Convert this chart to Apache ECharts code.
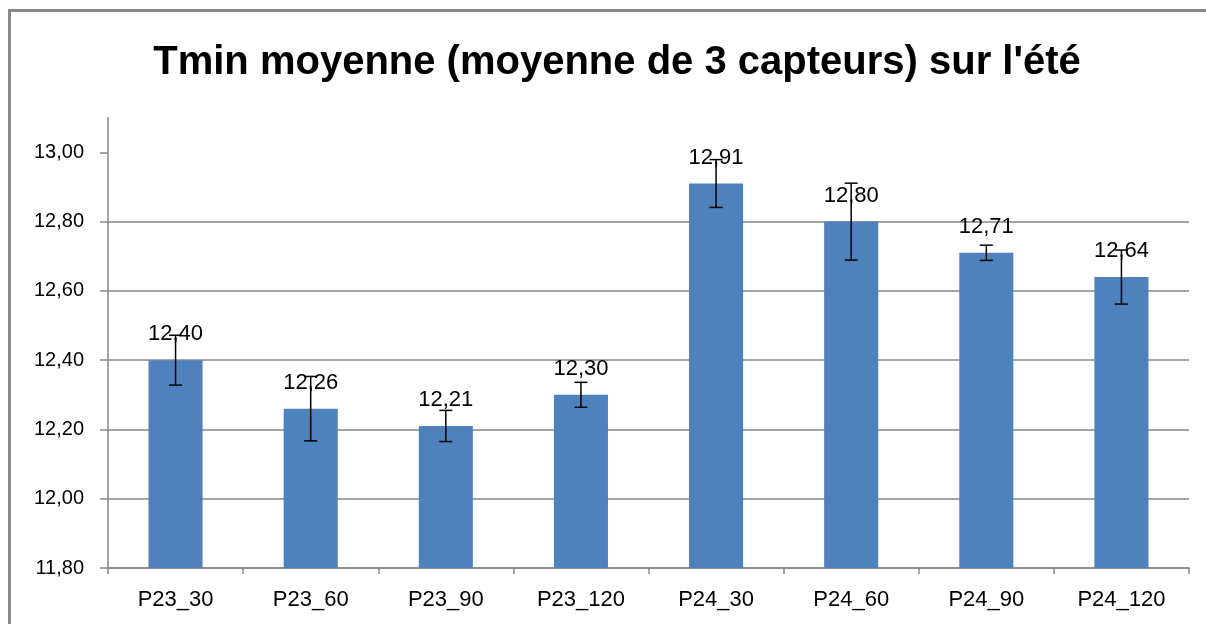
<!DOCTYPE html>
<html>
<head>
<meta charset="utf-8">
<script src="https://cdn.jsdelivr.net/npm/echarts@6/dist/echarts.min.js"></script>
<style>
html,body{margin:0;padding:0;background:#fff;overflow:hidden;}
#frame{position:absolute;left:8px;top:9px;width:1400px;height:800px;border:3px solid #878787;box-sizing:border-box;}
#chart{position:absolute;left:0;top:0;width:1206px;height:624px;}
</style>
</head>
<body>
<div id="frame"></div>
<div id="chart"></div>
<script>
const titleText = "Tmin moyenne (moyenne de 3 capteurs) sur l'été";
const categories = ['P23_30','P23_60','P23_90','P23_120','P24_30','P24_60','P24_90','P24_120'];
const means = [12.40, 12.26, 12.21, 12.30, 12.91, 12.80, 12.71, 12.64];
const errors = [0.072, 0.093, 0.045, 0.036, 0.069, 0.111, 0.022, 0.078];
const yTicks = [11.8, 12.0, 12.2, 12.4, 12.6, 12.8, 13.0];

const fmt = v => Number(v).toFixed(2).replace('.', ',');
const FONT = 'Liberation Sans';

const errData = means.map((m, i) => [i, m, errors[i]]);

const chart = echarts.init(document.getElementById('chart'), null, {renderer: 'canvas'});
chart.setOption({
  backgroundColor: 'transparent',
  animation: false,
  title: {
    text: titleText,
    left: 612,
    textAlign: 'center',
    top: 38,
    textStyle: {fontFamily: FONT, fontWeight: 'bold', fontSize: 40, color: '#000'}
  },
  grid: {left: 108, right: 17, top: 117.7, bottom: 56, containLabel: false},
  xAxis: {
    type: 'category',
    data: categories,
    boundaryGap: true,
    axisLine: {lineStyle: {color: '#868686', width: 1.5}},
    axisTick: {show: true, length: 6, lineStyle: {color: '#868686', width: 1.5}},
    axisLabel: {fontFamily: FONT, fontSize: 22, color: '#000', margin: 21}
  },
  yAxis: {
    type: 'value',
    min: 11.8,
    max: 13.1,
    interval: 0.2,
    axisLine: {show: true, lineStyle: {color: '#868686', width: 1.5}},
    axisTick: {show: true, length: 8, customValues: yTicks, lineStyle: {color: '#868686', width: 1.5}},
    axisLabel: {customValues: yTicks, formatter: v => fmt(v), fontFamily: FONT, fontSize: 20, color: '#000', margin: 24},
    splitLine: {show: true, showMaxLine: false, lineStyle: {color: '#868686', width: 1.5}}
  },
  series: [
    {
      type: 'bar',
      data: means,
      barWidth: '40%',
      itemStyle: {color: '#4F81BD'},
      label: {
        show: true,
        position: 'top',
        distance: 15,
        formatter: p => fmt(p.value),
        fontFamily: FONT, fontSize: 22, color: '#000'
      },
      z: 2
    },
    {
      type: 'custom',
      data: errData,
      z: 10,
      renderItem: function (params, api) {
        const i = api.value(0), m = api.value(1), e = api.value(2);
        const top = api.coord([i, m + e]);
        const bot = api.coord([i, m - e]);
        const hw = 6.5;
        const style = {stroke: '#000', lineWidth: 1.5};
        return {
          type: 'group',
          children: [
            {type: 'line', shape: {x1: top[0], y1: top[1], x2: bot[0], y2: bot[1]}, style: style},
            {type: 'line', shape: {x1: top[0] - hw, y1: top[1], x2: top[0] + hw, y2: top[1]}, style: style},
            {type: 'line', shape: {x1: bot[0] - hw, y1: bot[1], x2: bot[0] + hw, y2: bot[1]}, style: style}
          ]
        };
      }
    }
  ]
});
</script>
</body>
</html>
